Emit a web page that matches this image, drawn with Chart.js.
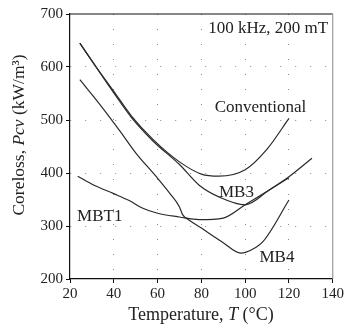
<!DOCTYPE html>
<html>
<head>
<meta charset="utf-8">
<script src="https://cdn.jsdelivr.net/npm/chart.js@4.4.1/dist/chart.umd.min.js"></script>
<style>
  html, body { margin: 0; padding: 0; background: #fff; }
  #wrap { width: 346px; height: 328px; position: relative; }
</style>
</head>
<body>
<div id="wrap"><canvas id="coreChart"></canvas></div>
<script>
// temperature (°C) and core loss (kW/m3)
const convT = [24.5, 32, 40, 48, 58, 70, 80, 88, 100, 110, 120];
const convP = [645, 600, 554, 508, 463, 421, 398, 394, 406, 445, 503];

const mb3T = [24.5, 32, 40, 48, 58, 70, 79, 88, 100, 111, 120, 130.5];
const mb3P = [645, 599, 551, 505, 460, 416, 377, 355, 340, 368, 393, 428];

const mb4T = [24.5, 35, 43, 50, 59.4, 65.5, 70, 71.5, 74.5, 80, 89.5, 98, 100, 108, 120];
const mb4P = [576, 522, 478, 438, 393, 362, 336, 321, 311, 296, 270, 249, 250, 270, 349];

const mbt1T = [23.5, 31, 40, 47, 53, 60, 70, 79, 90, 100, 111, 120];
const mbt1P = [394, 377, 361, 348, 334, 324, 317, 312, 315, 340, 368, 391];

const xTicks = [20, 40, 60, 80, 100, 120, 140];
const yTicks = [200, 300, 400, 500, 600, 700];

const labels = [
  { text: "100 kHz, 200 mT", x: 110.5, y: 673 },
  { text: "Conventional", x: 107, y: 524 },
  { text: "MB3", x: 96, y: 364 },
  { text: "MBT1", x: 33.6, y: 317 },
  { text: "MB4", x: 114.5, y: 241 },
];

function pts(xs, ys) {
  return xs.map((x, i) => ({ x: x, y: ys[i] }));
}

function line(name, xs, ys) {
  return {
    label: name,
    data: pts(xs, ys),
    borderColor: "#2a2a2a",
    borderWidth: 1.2,
    pointRadius: 0,
    fill: false,
    cubicInterpolationMode: "monotone",
  };
}

const serif = "'Liberation Serif', 'DejaVu Serif', serif";

// frame, annotations and mixed-style axis titles
const decorPlugin = {
  id: "decor",
  afterDraw(chart) {
    const { ctx, chartArea: { top, bottom, left, right }, scales } = chart;
    ctx.save();
    ctx.strokeStyle = "#111";
    ctx.lineWidth = 1.2;
    ctx.beginPath();
    ctx.moveTo(left, top);
    ctx.lineTo(right, top);
    ctx.stroke();
    ctx.strokeStyle = "#888";
    ctx.lineWidth = 1;
    ctx.beginPath();
    ctx.moveTo(right, top);
    ctx.lineTo(right, bottom);
    ctx.stroke();

    ctx.fillStyle = "#222";
    ctx.textAlign = "center";
    ctx.textBaseline = "middle";
    ctx.font = `17px ${serif}`;
    labels.forEach((l) => {
      ctx.fillText(l.text, scales.x.getPixelForValue(l.x), scales.y.getPixelForValue(l.y));
    });

    // x title
    const xParts = [
      { t: "Temperature, ", f: `18px ${serif}` },
      { t: "T", f: `italic 18px ${serif}` },
      { t: " (°C)", f: `18px ${serif}` },
    ];
    drawParts(ctx, xParts, 201, 315);

    // y title, rotated
    ctx.translate(19, 135);
    ctx.rotate(-Math.PI / 2);
    const yParts = [
      { t: "Coreloss, ", f: `17.5px ${serif}` },
      { t: "Pcv", f: `italic 17.5px ${serif}` },
      { t: " (kW/m³)", f: `17.5px ${serif}` },
    ];
    drawParts(ctx, yParts, 0, 0);
    ctx.restore();
  },
};

function drawParts(ctx, parts, cx, cy) {
  let total = 0;
  parts.forEach((p) => { ctx.font = p.f; total += ctx.measureText(p.t).width; });
  let x = cx - total / 2;
  ctx.textAlign = "left";
  parts.forEach((p) => {
    ctx.font = p.f;
    ctx.fillText(p.t, x, cy);
    x += ctx.measureText(p.t).width;
  });
  ctx.textAlign = "center";
}

const gridColor = (c) =>
  c.index === 0 || c.index === c.chart.scales[c.scale.id].ticks.length - 1 ? "rgba(0,0,0,0)" : "#8a8a8a";

const ctx = document.getElementById("coreChart").getContext("2d");
const coreChart = new Chart(ctx, {
  type: "line",
  data: {
    datasets: [
      line("Conventional", convT, convP),
      line("MB3", mb3T, mb3P),
      line("MB4", mb4T, mb4P),
      line("MBT1", mbt1T, mbt1P),
    ],
  },
  options: {
    responsive: true,
    maintainAspectRatio: false,
    animation: false,
    layout: { padding: { left: 4, right: 13, top: 14, bottom: 4 } },
    scales: {
      x: {
        type: "linear",
        min: 20,
        max: 140,
        afterBuildTicks: (s) => { s.ticks = xTicks.map((v) => ({ value: v })); },
        afterFit: (s) => { s.height = 45; },
        ticks: { color: "#222", font: { family: serif, size: 15 }, padding: 2, maxRotation: 0 },
        grid: { color: gridColor, tickColor: "#111", tickLength: 4, lineWidth: 1 },
        border: { color: "#111", width: 1.2, dash: [1, 14] },
      },
      y: {
        type: "linear",
        min: 200,
        max: 700,
        afterBuildTicks: (s) => { s.ticks = yTicks.map((v) => ({ value: v })); },
        afterFit: (s) => { s.width = 66; },
        ticks: { color: "#222", font: { family: serif, size: 15 }, padding: 3 },
        grid: { color: gridColor, tickColor: "#111", tickLength: 4, lineWidth: 1 },
        border: { color: "#111", width: 1.2, dash: [1, 14] },
      },
    },
    plugins: {
      legend: { display: false },
      tooltip: { enabled: false },
    },
  },
  plugins: [decorPlugin],
});
</script>
</body>
</html>
